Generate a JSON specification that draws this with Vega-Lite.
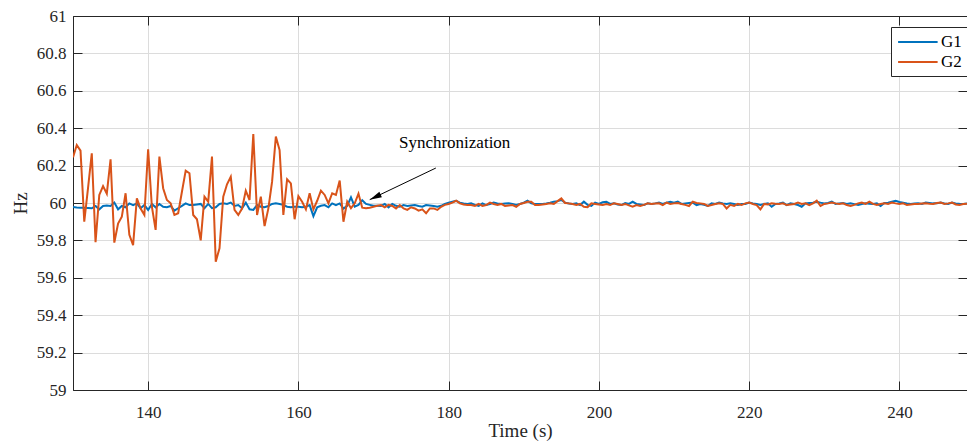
{
 "$schema": "https://vega.github.io/schema/vega-lite/v6.json",
 "width": 894,
 "height": 374,
 "autosize": "none",
 "padding": {"left": 73, "top": 16, "right": 0, "bottom": 51},
 "background": "white",
 "config": {
  "view": {"stroke": "#262626", "strokeWidth": 1},
  "font": "Times New Roman, Liberation Serif, serif",
  "style": {"guide-label": {"font": "Times New Roman, Liberation Serif, serif"}, "guide-title": {"font": "Times New Roman, Liberation Serif, serif"}},
  "axis": {"labelFont": "Times New Roman, Liberation Serif, serif", "titleFont": "Times New Roman, Liberation Serif, serif", "labelFontSize": 17, "titleFontSize": 19, "titleFontWeight": "normal", "labelColor": "#262626", "titleColor": "#262626", "domainColor": "#262626", "tickColor": "#262626", "gridColor": "#dcdcdc", "tickSize": -9},
  "legend": {"labelFont": "Times New Roman, Liberation Serif, serif"},
  "text": {"font": "Times New Roman, Liberation Serif, serif"}
 },
 "datasets": {
  "main": [
   {"t":130,"G1":59.978,"G2":60.244},{"t":130.5,"G1":59.976,"G2":60.31},{"t":131,"G1":59.975,"G2":60.28},{"t":131.5,"G1":59.974,"G2":59.9},
   {"t":132,"G1":59.973,"G2":60.08},{"t":132.5,"G1":59.972,"G2":60.266},{"t":133,"G1":59.984,"G2":59.79},{"t":133.5,"G1":59.966,"G2":60.043},
   {"t":134,"G1":59.984,"G2":60.09},{"t":134.5,"G1":59.986,"G2":60.05},{"t":135,"G1":59.984,"G2":60.234},{"t":135.5,"G1":60.002,"G2":59.788},
   {"t":136,"G1":59.966,"G2":59.89},{"t":136.5,"G1":59.984,"G2":59.927},{"t":137,"G1":59.977,"G2":60.052},{"t":137.5,"G1":59.998,"G2":59.83},
   {"t":138,"G1":59.989,"G2":59.775},{"t":138.5,"G1":59.998,"G2":60.025},{"t":139,"G1":59.972,"G2":59.97},{"t":139.5,"G1":59.989,"G2":59.936},
   {"t":140,"G1":59.963,"G2":60.287},{"t":140.5,"G1":59.995,"G2":59.98},{"t":141,"G1":59.977,"G2":59.856},{"t":141.5,"G1":59.995,"G2":60.248},
   {"t":142,"G1":59.98,"G2":60.079},{"t":142.5,"G1":59.977,"G2":60.016},{"t":143,"G1":59.984,"G2":59.998},{"t":143.5,"G1":59.959,"G2":59.936},
   {"t":144,"G1":59.972,"G2":59.945},{"t":144.5,"G1":59.985,"G2":60.06},{"t":145,"G1":59.998,"G2":60.173},{"t":145.5,"G1":59.989,"G2":60.159},
   {"t":146,"G1":59.989,"G2":59.936},{"t":146.5,"G1":59.992,"G2":59.913},{"t":147,"G1":59.995,"G2":59.8},{"t":147.5,"G1":59.972,"G2":60.034},
   {"t":148,"G1":59.995,"G2":60.007},{"t":148.5,"G1":59.972,"G2":60.248},{"t":149,"G1":59.977,"G2":59.686},{"t":149.5,"G1":59.995,"G2":59.758},
   {"t":150,"G1":59.998,"G2":60.034},{"t":150.5,"G1":59.995,"G2":60.1},{"t":151,"G1":60.002,"G2":60.14},{"t":151.5,"G1":59.984,"G2":59.963},
   {"t":152,"G1":59.989,"G2":59.936},{"t":152.5,"G1":59.972,"G2":59.97},{"t":153,"G1":60.002,"G2":60.066},{"t":153.5,"G1":59.966,"G2":60.016},
   {"t":154,"G1":59.963,"G2":60.369},{"t":154.5,"G1":59.989,"G2":59.936},{"t":155,"G1":59.98,"G2":60.034},{"t":155.5,"G1":59.977,"G2":59.877},
   {"t":156,"G1":59.984,"G2":59.97},{"t":156.5,"G1":59.995,"G2":60.114},{"t":157,"G1":59.998,"G2":60.355},{"t":157.5,"G1":59.995,"G2":60.283},
   {"t":158,"G1":59.99,"G2":59.936},{"t":158.5,"G1":59.98,"G2":60.127},{"t":159,"G1":59.977,"G2":60.105},{"t":159.5,"G1":59.98,"G2":59.913},
   {"t":160,"G1":59.98,"G2":60.037},{"t":160.5,"G1":59.977,"G2":60.007},{"t":161,"G1":59.98,"G2":59.966},{"t":161.5,"G1":59.989,"G2":60.052},
   {"t":162,"G1":59.93,"G2":59.966},{"t":162.5,"G1":59.977,"G2":60.012},{"t":163,"G1":59.985,"G2":60.066},{"t":163.5,"G1":59.989,"G2":60.043},
   {"t":164,"G1":59.977,"G2":59.998},{"t":164.5,"G1":59.998,"G2":60.052},{"t":165,"G1":59.989,"G2":60.043},{"t":165.5,"G1":59.998,"G2":60.12},
   {"t":166,"G1":59.97,"G2":59.9},{"t":166.5,"G1":59.985,"G2":60.007},{"t":167,"G1":60.03,"G2":59.972},{"t":167.5,"G1":59.98,"G2":59.998},
   {"t":168,"G1":59.99,"G2":60.05},{"t":168.5,"G1":60.015,"G2":59.975},{"t":169,"G1":59.995,"G2":59.972},{"t":169.5,"G1":59.99,"G2":59.975},
   {"t":170,"G1":59.985,"G2":59.98},{"t":170.5,"G1":59.985,"G2":59.985},{"t":171,"G1":59.984,"G2":59.989},{"t":171.5,"G1":59.995,"G2":59.977},
   {"t":172,"G1":59.977,"G2":59.99},{"t":172.5,"G1":59.995,"G2":59.984},{"t":173,"G1":59.985,"G2":59.971},{"t":173.5,"G1":59.98,"G2":59.989},
   {"t":174,"G1":59.989,"G2":59.971},{"t":174.5,"G1":59.984,"G2":59.963},{"t":175,"G1":59.987,"G2":59.977},{"t":175.5,"G1":59.989,"G2":59.971},
   {"t":176,"G1":59.984,"G2":59.959},{"t":176.5,"G1":59.98,"G2":59.966},{"t":177,"G1":59.989,"G2":59.945},{"t":177.5,"G1":59.987,"G2":59.971},
   {"t":178,"G1":59.984,"G2":59.971},{"t":178.5,"G1":59.98,"G2":59.963},{"t":179,"G1":59.985,"G2":59.98},{"t":179.5,"G1":59.995,"G2":59.99},
   {"t":180,"G1":60.002,"G2":59.995},{"t":180.5,"G1":60.007,"G2":60.002},{"t":181,"G1":60.012,"G2":60.012},{"t":181.5,"G1":60.002,"G2":59.998},
   {"t":182,"G1":59.998,"G2":59.992},{"t":182.5,"G1":59.995,"G2":59.989},{"t":183,"G1":59.998,"G2":59.989},{"t":183.5,"G1":59.99,"G2":59.984},
   {"t":184,"G1":59.984,"G2":59.995},{"t":184.5,"G1":59.998,"G2":59.984},{"t":185,"G1":59.989,"G2":59.989},{"t":185.5,"G1":59.995,"G2":60.002},
   {"t":186,"G1":60.002,"G2":59.995},{"t":186.5,"G1":59.998,"G2":59.989},{"t":187,"G1":59.995,"G2":59.995},{"t":187.5,"G1":59.997,"G2":59.984},
   {"t":188,"G1":59.998,"G2":59.987},{"t":188.5,"G1":59.995,"G2":59.989},{"t":189,"G1":59.989,"G2":59.98},{"t":189.5,"G1":59.995,"G2":59.995},
   {"t":190,"G1":60.002,"G2":60.0},{"t":190.5,"G1":60.012,"G2":60.007},{"t":191,"G1":59.998,"G2":60.007},{"t":191.5,"G1":59.995,"G2":59.989},
   {"t":192,"G1":59.995,"G2":59.989},{"t":192.5,"G1":59.995,"G2":59.992},{"t":193,"G1":59.998,"G2":59.995},{"t":193.5,"G1":60.002,"G2":59.998},
   {"t":194,"G1":60.007,"G2":59.995},{"t":194.5,"G1":60.01,"G2":60.01},{"t":195,"G1":60.016,"G2":60.025},{"t":195.5,"G1":60.002,"G2":60.0},
   {"t":196,"G1":59.997,"G2":59.998},{"t":196.5,"G1":59.995,"G2":59.995},{"t":197,"G1":59.998,"G2":59.989},{"t":197.5,"G1":59.989,"G2":59.995},
   {"t":198,"G1":60.007,"G2":59.98},{"t":198.5,"G1":59.99,"G2":59.977},{"t":199,"G1":59.984,"G2":59.998},{"t":199.5,"G1":60.002,"G2":59.995},
   {"t":200,"G1":59.995,"G2":59.992},{"t":200.5,"G1":60.004,"G2":59.989},{"t":201,"G1":60.007,"G2":59.995},{"t":201.5,"G1":59.995,"G2":59.989},
   {"t":202,"G1":59.998,"G2":59.998},{"t":202.5,"G1":59.992,"G2":59.995},{"t":203,"G1":59.989,"G2":59.989},{"t":203.5,"G1":60.0,"G2":59.995},
   {"t":204,"G1":59.995,"G2":59.987},{"t":204.5,"G1":60.007,"G2":59.98},{"t":205,"G1":59.995,"G2":59.989},{"t":205.5,"G1":59.992,"G2":59.984},
   {"t":206,"G1":59.989,"G2":59.99},{"t":206.5,"G1":59.998,"G2":59.998},{"t":207,"G1":59.995,"G2":59.995},{"t":207.5,"G1":59.998,"G2":59.997},
   {"t":208,"G1":60.002,"G2":59.998},{"t":208.5,"G1":59.995,"G2":59.989},{"t":209,"G1":60.002,"G2":60.002},{"t":209.5,"G1":60.007,"G2":59.995},
   {"t":210,"G1":60.002,"G2":59.998},{"t":210.5,"G1":60.007,"G2":60.0},{"t":211,"G1":59.995,"G2":59.995},{"t":211.5,"G1":59.998,"G2":59.99},
   {"t":212,"G1":60.0,"G2":59.984},{"t":212.5,"G1":60.002,"G2":60.007},{"t":213,"G1":59.989,"G2":60.0},{"t":213.5,"G1":59.995,"G2":59.998},
   {"t":214,"G1":59.99,"G2":59.995},{"t":214.5,"G1":59.984,"G2":59.984},{"t":215,"G1":59.998,"G2":59.989},{"t":215.5,"G1":59.995,"G2":59.995},
   {"t":216,"G1":60.002,"G2":59.998},{"t":216.5,"G1":59.998,"G2":59.995},{"t":217,"G1":59.995,"G2":59.971},{"t":217.5,"G1":59.998,"G2":59.99},
   {"t":218,"G1":59.995,"G2":59.984},{"t":218.5,"G1":59.989,"G2":59.995},{"t":219,"G1":59.995,"G2":59.989},{"t":219.5,"G1":59.995,"G2":59.998},
   {"t":220,"G1":60.002,"G2":60.002},{"t":220.5,"G1":59.998,"G2":59.995},{"t":221,"G1":59.995,"G2":59.989},{"t":221.5,"G1":59.989,"G2":59.966},
   {"t":222,"G1":59.995,"G2":59.995},{"t":222.5,"G1":59.998,"G2":59.992},{"t":223,"G1":59.98,"G2":59.998},{"t":223.5,"G1":59.995,"G2":59.996},
   {"t":224,"G1":59.998,"G2":59.995},{"t":224.5,"G1":60.002,"G2":59.998},{"t":225,"G1":59.989,"G2":59.989},{"t":225.5,"G1":59.998,"G2":59.992},
   {"t":226,"G1":59.995,"G2":59.995},{"t":226.5,"G1":59.989,"G2":60.002},{"t":227,"G1":59.98,"G2":59.995},{"t":227.5,"G1":59.998,"G2":59.998},
   {"t":228,"G1":60.0,"G2":59.989},{"t":228.5,"G1":60.002,"G2":59.998},{"t":229,"G1":60.007,"G2":60.012},{"t":229.5,"G1":60.002,"G2":59.984},
   {"t":230,"G1":59.998,"G2":59.995},{"t":230.5,"G1":60.0,"G2":59.998},{"t":231,"G1":60.007,"G2":60.002},{"t":231.5,"G1":59.995,"G2":59.998},
   {"t":232,"G1":59.998,"G2":59.995},{"t":232.5,"G1":60.0,"G2":59.998},{"t":233,"G1":59.995,"G2":59.989},{"t":233.5,"G1":59.998,"G2":59.984},
   {"t":234,"G1":59.994,"G2":59.99},{"t":234.5,"G1":59.989,"G2":59.998},{"t":235,"G1":59.995,"G2":60.002},{"t":235.5,"G1":59.998,"G2":59.995},
   {"t":236,"G1":59.996,"G2":60.007},{"t":236.5,"G1":59.995,"G2":59.995},{"t":237,"G1":59.998,"G2":59.989},{"t":237.5,"G1":59.984,"G2":59.995},
   {"t":238,"G1":60.0,"G2":59.998},{"t":238.5,"G1":60.002,"G2":59.995},{"t":239,"G1":60.007,"G2":60.002},{"t":239.5,"G1":60.012,"G2":59.998},
   {"t":240,"G1":60.005,"G2":59.995},{"t":240.5,"G1":60.002,"G2":59.998},{"t":241,"G1":59.998,"G2":59.989},{"t":241.5,"G1":59.995,"G2":59.992},
   {"t":242,"G1":59.997,"G2":59.995},{"t":242.5,"G1":59.998,"G2":59.995},{"t":243,"G1":59.995,"G2":59.997},{"t":243.5,"G1":60.002,"G2":59.998},
   {"t":244,"G1":60.0,"G2":59.996},{"t":244.5,"G1":59.998,"G2":59.995},{"t":245,"G1":59.998,"G2":60.0},{"t":245.5,"G1":60.002,"G2":60.002},
   {"t":246,"G1":59.997,"G2":59.995},{"t":246.5,"G1":59.995,"G2":59.998},{"t":247,"G1":60.002,"G2":60.002},{"t":247.5,"G1":59.998,"G2":59.992},
   {"t":248,"G1":59.996,"G2":59.989},{"t":248.5,"G1":59.995,"G2":59.995},{"t":249,"G1":59.998,"G2":59.996}
  ],
  "arrow": [{"x": 178.3, "y": 60.187, "x2": 169.5, "y2": 60.018}],
  "note": [{"t": 180.8, "v": 60.32, "label": "Synchronization"}]
 },
 "layer": [
  {
   "data": {"name": "main"},
   "transform": [{"fold": ["G1", "G2"], "as": ["series", "value"]}],
   "mark": {"type": "line", "strokeWidth": 2, "clip": true},
   "encoding": {
    "x": {"field": "t", "type": "quantitative", "scale": {"domain": [130, 249], "nice": false, "zero": false},
          "axis": {"orient": "bottom", "title": "Time (s)", "values": [140, 160, 180, 200, 220, 240], "grid": true, "labelFont": "Times New Roman, Liberation Serif, serif", "titleFont": "Times New Roman, Liberation Serif, serif", "labelFontSize": 17, "titleFontSize": 19, "labelPadding": 23, "titlePadding": 1, "labelFlush": false}},
    "y": {"field": "value", "type": "quantitative", "scale": {"domain": [59, 61], "nice": false, "zero": false},
          "axis": {"orient": "left", "title": "Hz", "values": [59, 59.2, 59.4, 59.6, 59.8, 60, 60.2, 60.4, 60.6, 60.8, 61], "format": ".1~f", "grid": true, "labelFont": "Times New Roman, Liberation Serif, serif", "titleFont": "Times New Roman, Liberation Serif, serif", "labelFontSize": 17, "titleFontSize": 19, "labelPadding": 16, "titlePadding": 6, "labelFlush": false}},
    "color": {"field": "series", "type": "nominal", "scale": {"domain": ["G1", "G2"], "range": ["#0072BD", "#D95319"]},
              "legend": {"title": null, "orient": "none", "legendX": 818, "legendY": 11, "direction": "vertical", "symbolType": "M-1,0H4", "symbolSize": 250, "symbolStrokeWidth": 2, "labelFont": "Times New Roman, Liberation Serif, serif", "labelFontSize": 17, "labelColor": "#000000", "strokeColor": "#262626", "fillColor": "white", "padding": 6, "rowPadding": 3, "labelOffset": 26}}
   }
  },
  {
   "data": {"name": "arrow"},
   "mark": {"type": "rule", "color": "black", "strokeWidth": 1},
   "encoding": {
    "x": {"field": "x", "type": "quantitative", "axis": null},
    "y": {"field": "y", "type": "quantitative", "axis": null},
    "x2": {"field": "x2"},
    "y2": {"field": "y2"}
   }
  },
  {
   "data": {"name": "arrow"},
   "mark": {"type": "point", "shape": "M0,0L-0.5,2L0.5,2Z", "filled": true, "color": "black", "opacity": 1, "size": 144, "angle": 245},
   "encoding": {
    "x": {"field": "x2", "type": "quantitative", "axis": null},
    "y": {"field": "y2", "type": "quantitative", "axis": null}
   }
  },
  {
   "data": {"name": "note"},
   "mark": {"type": "text", "font": "Times New Roman, Liberation Serif, serif", "fontSize": 17, "align": "center", "baseline": "middle", "color": "black"},
   "encoding": {
    "x": {"field": "t", "type": "quantitative", "axis": {"orient": "top", "values": [140, 160, 180, 200, 220, 240], "labels": false, "title": null, "grid": false}},
    "y": {"field": "v", "type": "quantitative", "axis": {"orient": "right", "values": [59, 59.2, 59.4, 59.6, 59.8, 60, 60.2, 60.4, 60.6, 60.8, 61], "labels": false, "title": null, "grid": false}},
    "text": {"field": "label"}
   }
  }
 ],
 "resolve": {"axis": {"x": "independent", "y": "independent"}}
}
